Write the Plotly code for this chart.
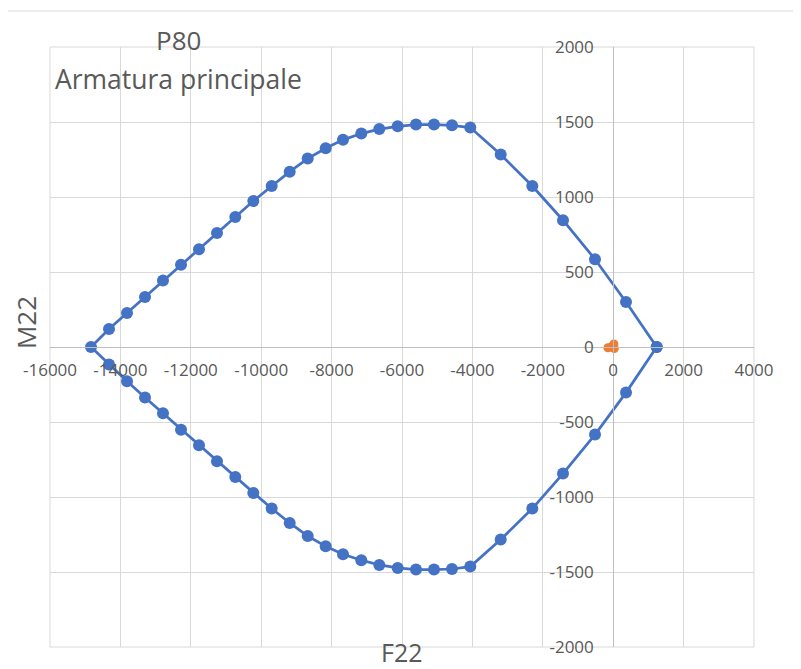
import plotly.graph_objects as go

# interaction diagram P80 - main reinforcement (F22 / M22)
f22_upper = [1236, 364, -517, -1426, -2298, -3196, -4060, -4580, -5091, -5602,
             -6122, -6645, -7156, -7676, -8168, -8679, -9190, -9702, -10224, -10736,
             -11256, -11767, -12278, -12790, -13301, -13812, -14324, -14835]
m22_upper = [0, 300, 585, 845, 1073, 1283, 1463, 1478, 1483, 1483,
             1471, 1453, 1423, 1381, 1325, 1256, 1169, 1073, 973, 867,
             760, 651, 549, 443, 333, 227, 120, 0]

f22_lower = [-14324, -13812, -13301, -12790, -12278, -11767, -11256, -10736, -10224, -9702,
             -9190, -8679, -8168, -7676, -7156, -6645, -6122, -5602, -5091, -4580,
             -4060, -3196, -2298, -1426, -517, 364, 1236]
m22_lower = [-117, -229, -337, -442, -551, -655, -762, -867, -973, -1077,
             -1173, -1260, -1329, -1382, -1422, -1453, -1473, -1484, -1484, -1480,
             -1464, -1284, -1077, -844, -584, -304, 0]

# acting loads (the orange blob near the origin)
f22_loads = [-150, -60, 20, 30]
m22_loads = [-5, 0, 20, -10]

x_ticks = [-16000, -14000, -12000, -10000, -8000, -6000, -4000, -2000, 0, 2000, 4000]
x_labels = ["-16000", "-14000", "-12000", "-10000", "-8000", "-6000", "-4000", "-2000", "0", "2000", "4000"]
y_ticks = [-2000, -1500, -1000, -500, 0, 500, 1000, 1500, 2000]
y_labels = ["-2000", "-1500", "-1000", "-500", "0", "500", "1000", "1500", "2000"]

grey = "#595959"
grid = "#d9d9d9"

fig = go.Figure()
fig.add_trace(go.Scatter(
    x=f22_upper + f22_lower, y=m22_upper + m22_lower,
    mode="lines+markers",
    line=dict(color="#4472c4", width=2.75),
    marker=dict(color="#4472c4", size=12),
    name="Dominio"))
fig.add_trace(go.Scatter(
    x=f22_loads, y=m22_loads, mode="markers",
    marker=dict(color="#ed7d31", size=9),
    name="Sollecitazioni"))

# page body has an 8px margin, so the figure is a bit smaller than the window
fig.update_layout(
    width=793, height=661,
    margin=dict(l=42, r=46.7, t=38.7, b=22.3),
    paper_bgcolor="white", plot_bgcolor="white",
    showlegend=False,
    font=dict(family="Open Sans", color=grey),
    xaxis=dict(range=[-16000, 4000], tickvals=x_ticks, ticktext=x_labels, showgrid=True,
               gridcolor=grid, gridwidth=1, zeroline=False, showline=True, linecolor="#bfbfbf",
               anchor="free", position=0.5, ticks="", ticklabelstandoff=8, automargin=False,
               tickfont=dict(size=17, color=grey)),
    yaxis=dict(range=[-2000, 2000], tickvals=y_ticks, ticktext=y_labels, showgrid=True,
               gridcolor=grid, gridwidth=1, zeroline=False, showline=True, linecolor="#bfbfbf",
               anchor="free", position=0.8, ticks="", ticklabelstandoff=16, automargin=False,
               tickfont=dict(size=17, color=grey)),
)

# plot-area border and thin frame line at top of chart area
fig.add_shape(type="rect", xref="paper", yref="paper", x0=0, x1=1, y0=0, y1=1,
              line=dict(color=grid, width=1), layer="below")
fig.add_shape(type="line", xref="paper", yref="paper", x0=-0.08, x1=1.08, y0=1.06, y1=1.06,
              line=dict(color=grid, width=1))

fig.add_annotation(text="P80", xref="paper", yref="paper", x=0.183, y=1.012,
                   xanchor="center", yanchor="middle",
                   showarrow=False, font=dict(size=26, color=grey))
fig.add_annotation(text="Armatura principale", xref="paper", yref="paper", x=0.182, y=0.946,
                   xanchor="center", yanchor="middle",
                   showarrow=False, font=dict(size=26.5, color=grey))
fig.add_annotation(text="M22", xref="paper", yref="paper", x=-0.034, y=0.54, textangle=-90,
                   xanchor="center", yanchor="middle",
                   showarrow=False, font=dict(size=26, color=grey))
fig.add_annotation(text="F22", xref="paper", yref="paper", x=0.5, y=-0.0085,
                   xanchor="center", yanchor="middle",
                   showarrow=False, font=dict(size=25, color=grey))

fig.write_html("out.html")
